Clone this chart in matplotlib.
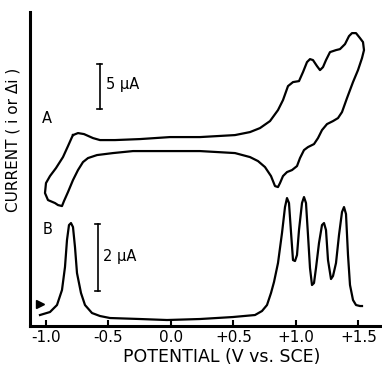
import matplotlib
matplotlib.use('Agg')
import matplotlib.pyplot as plt

# potential (V vs. SCE) and current (arbitrary display units)
# curve A: cyclic voltammogram, closed loop
cv_v = [-0.784, -0.744, -0.696, -0.624, -0.568, -0.448, -0.248, -0.008, 0.232, 0.512,
        0.632, 0.712, 0.792, 0.856, 0.896, 0.936, 0.976, 1.024, 1.056, 1.088,
        1.112, 1.136, 1.168, 1.192, 1.216, 1.240, 1.272, 1.320, 1.352, 1.392,
        1.424, 1.448, 1.480, 1.512, 1.536, 1.544, 1.528,
        1.496, 1.456, 1.408, 1.368, 1.336, 1.296, 1.248, 1.208, 1.176, 1.144,
        1.096, 1.064, 1.032, 1.008, 0.968, 0.928, 0.896, 0.872, 0.856, 0.832,
        0.800, 0.752, 0.696, 0.632, 0.512, 0.232, -0.008, -0.304, -0.464, -0.592,
        -0.664, -0.704, -0.744, -0.784, -0.824, -0.856, -0.872, -0.904, -0.928, -0.984,
        -1.008, -1.000, -0.968, -0.920, -0.864, -0.824, -0.792, -0.784]
cv_i = [191, 193, 192, 188, 186, 186, 187, 189, 189, 191,
        194, 198, 205, 216, 226, 240, 244, 245, 254, 264,
        267, 266, 260, 256, 259, 266, 274, 276, 277, 282,
        290, 293, 293, 288, 284, 276, 268,
        256, 244, 228, 214, 208, 205, 202, 196, 188, 182,
        179, 176, 168, 160, 156, 154, 150, 143, 139, 140,
        150, 159, 165, 169, 173, 175, 175, 175, 173, 171,
        168, 164, 156, 146, 134, 125, 120, 121, 123, 126,
        133, 143, 150, 158, 169, 180, 189, 191]

# curve B: differential pulse voltammogram
dp_v = [-1.048, -0.968, -0.912, -0.872, -0.848, -0.832, -0.816, -0.800, -0.784, -0.768,
        -0.752, -0.720, -0.688, -0.632, -0.568, -0.488, -0.248, -0.032, 0.232, 0.496,
        0.672, 0.728, 0.768, 0.800, 0.824, 0.856, 0.888, 0.912, 0.928, 0.944,
        0.960, 0.976, 0.992, 1.008, 1.024, 1.048, 1.064, 1.080, 1.096, 1.112,
        1.128, 1.144, 1.160, 1.184, 1.208, 1.224, 1.240, 1.256, 1.280, 1.296,
        1.320, 1.344, 1.368, 1.384, 1.400, 1.416, 1.432, 1.456, 1.480, 1.512, 1.528]
dp_i = [11, 14, 21, 36, 59, 86, 101, 103, 99, 79,
        53, 33, 21, 13, 10, 8, 7, 6, 7, 9,
        11, 15, 21, 33, 44, 63, 93, 119, 128, 123,
        94, 66, 65, 71, 96, 123, 129, 123, 91, 58,
        41, 43, 58, 83, 101, 103, 96, 66, 47, 50,
        63, 91, 114, 119, 112, 71, 41, 26, 21, 20, 20]

tick_pos = [-1.0, -0.5, 0.0, 0.5, 1.0, 1.5]
tick_labels = ['-1.0', '-0.5', '0.0', '+0.5', '+1.0', '+1.5']

fig = plt.figure(figsize=(3.82, 3.65), dpi=100)
ax = fig.add_axes([0.0785, 0.1068, 0.9215, 0.860])

ax.plot(cv_v, cv_i, color='black', lw=1.6, solid_joinstyle='round')
ax.plot(dp_v, dp_i, color='black', lw=1.6, solid_joinstyle='round')

# scale bars
ax.plot([-0.568, -0.568], [217, 262], color='black', lw=1.2)
ax.plot([-0.588, -0.548], [217, 217], color='black', lw=1.2)
ax.plot([-0.588, -0.548], [262, 262], color='black', lw=1.2)
ax.text(-0.52, 242, '5 µA', fontsize=10.5, va='center', ha='left')
ax.plot([-0.584, -0.584], [35, 102], color='black', lw=1.2)
ax.plot([-0.604, -0.564], [35, 35], color='black', lw=1.2)
ax.plot([-0.604, -0.564], [102, 102], color='black', lw=1.2)
ax.text(-0.54, 70, '2 µA', fontsize=10.5, va='center', ha='left')

ax.text(-0.99, 208, 'A', fontsize=10.5, va='center', ha='center')
ax.text(-0.99, 97, 'B', fontsize=10.5, va='center', ha='center')
ax.plot([-1.048], [22], marker='>', color='black', markersize=6)

ax.set_xlim(-1.128, 1.688)
ax.set_ylim(0, 314)
ax.set_xticks(tick_pos)
ax.set_xticklabels(tick_labels, fontsize=11)
ax.set_yticks([])
ax.tick_params(axis='x', direction='in', length=4, width=1.5, pad=3)
for s in ['top', 'right']:
    ax.spines[s].set_visible(False)
for s in ['left', 'bottom']:
    ax.spines[s].set_linewidth(2.2)

fig.text(0.034, 0.616, 'CURRENT ( i or Δi )', rotation=90, fontsize=11,
         ha='center', va='center')
fig.text(0.581, 0.021, 'POTENTIAL (V vs. SCE)', fontsize=12.5,
         ha='center', va='center')

fig.savefig('out.png', dpi=100)
